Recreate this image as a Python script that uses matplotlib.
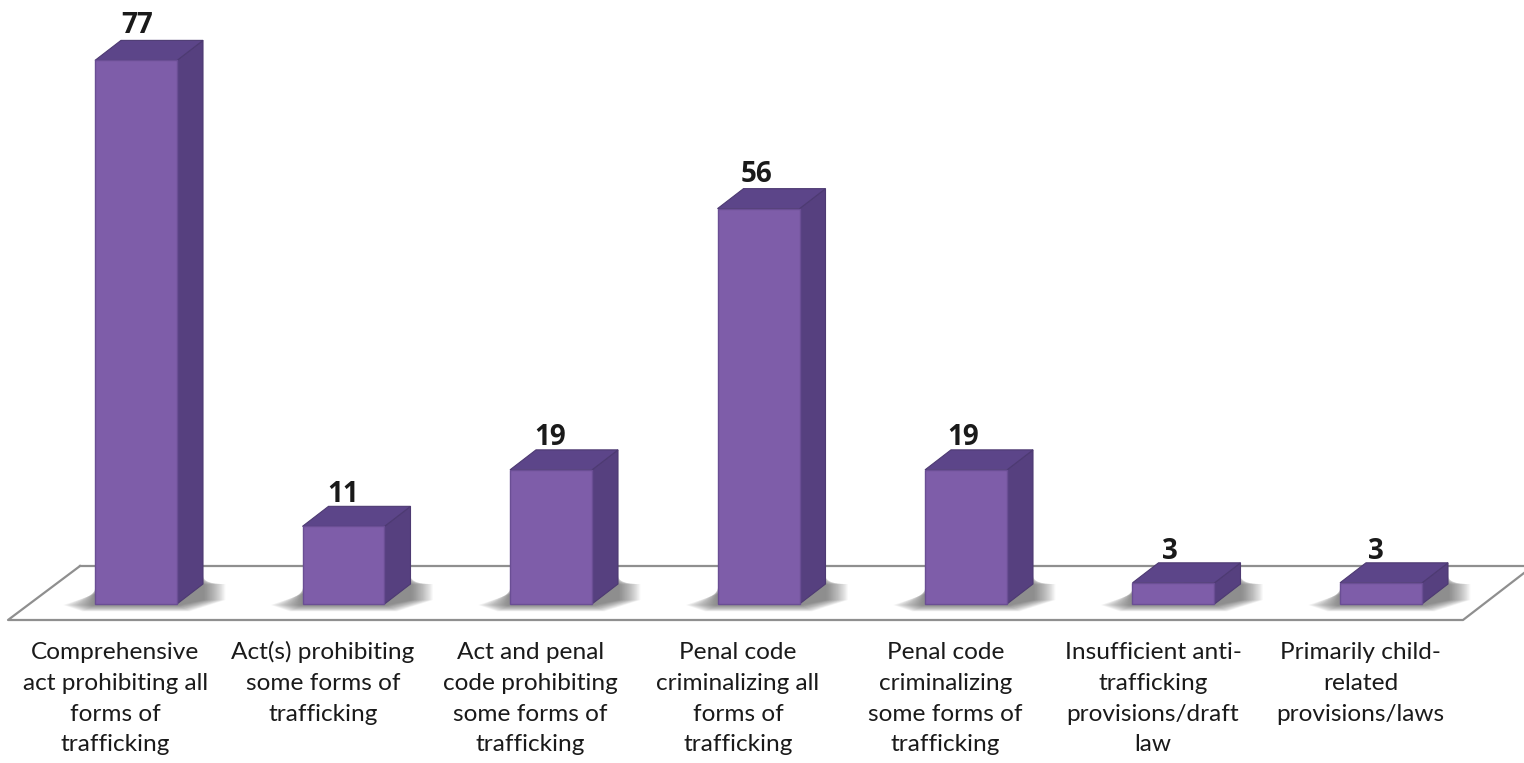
import numpy as np
import matplotlib
matplotlib.use('Agg')
import matplotlib.pyplot as plt
from matplotlib.patches import Polygon

categories = [
    'Comprehensive\nact prohibiting all\nforms of\ntrafficking',
    'Act(s) prohibiting\nsome forms of\ntrafficking',
    'Act and penal\ncode prohibiting\nsome forms of\ntrafficking',
    'Penal code\ncriminalizing all\nforms of\ntrafficking',
    'Penal code\ncriminalizing\nsome forms of\ntrafficking',
    'Insufficient anti-\ntrafficking\nprovisions/draft\nlaw',
    'Primarily child-\nrelated\nprovisions/laws',
]
values = [77, 11, 19, 56, 19, 3, 3]

plt.rcParams['font.family'] = ['Lato', 'DejaVu Sans']

W, H = 1524, 763
px_per_cat = 207.5
px_per_val = 7.06
x0_px = 136
y0_px = 604

fig = plt.figure(figsize=(W / 100, H / 100), dpi=100)
ax = fig.add_axes([0, 0, 1, 1])
# x in category index, y in value units, baseline at 604 px
ax.set_xlim((0 - x0_px) / px_per_cat, (W - x0_px) / px_per_cat)
ax.set_ylim(-(H - y0_px) / px_per_val, y0_px / px_per_val)
ax.axis('off')


def px_x(p):
    return p / px_per_cat


def px_y(p):
    return p / px_per_val


bar_w = px_x(82)
dx = px_x(26)
dy = px_y(20)

# floor outline
floor_c = '#8f8f8f'
left_back = px_x(80 - x0_px)
left_front = px_x(8 - x0_px)
right_front = px_x(1463 - x0_px)
right_edge = px_x(W - x0_px)
ax.plot([left_back, left_front, right_front, right_edge],
        [px_y(38), px_y(-16), px_y(-16), px_y(31)],
        color=floor_c, lw=1.6, zorder=1)
ax.plot([left_back, right_edge], [px_y(38), px_y(38)], color=floor_c, lw=1.6, zorder=1)

front_c = '#7e5da9'
side_c = '#56407f'
top_c = '#5c4589'

for i, v in enumerate(values):
    l = i - bar_w / 2
    r = i + bar_w / 2

    # soft shadow on the floor, stacked translucent shapes
    for g in range(1, 33):
        low = px_y(-1 - g * 0.2)
        ax.add_patch(Polygon(
            [(l - px_x(g), px_y(-1)),
             (l - px_x(g * 0.4), low),
             (r + px_x(g * 0.4), low),
             (r + dx + px_x(g * 0.7), px_y(4)),
             (r + dx + px_x(g * 0.7), px_y(20)),
             (r + dx, px_y(29 - g * 0.3)),
             (l, px_y(16 - g * 0.2))],
            closed=True, fc='#505050', ec='none', alpha=0.028, zorder=2))

    # side and top
    ax.add_patch(Polygon([(r, 0), (r + dx, dy), (r + dx, v + dy), (r, v)],
                         closed=True, fc=side_c, ec='#4d3a72', lw=0.8, zorder=3))
    ax.add_patch(Polygon([(l, v), (r, v), (r + dx, v + dy), (l + dx, v + dy)],
                         closed=True, fc=top_c, ec='#4d3a72', lw=0.8, zorder=3))
    # front
    ax.bar(i, v, width=bar_w, bottom=0, align='center', color=front_c,
           edgecolor='#6a4e94', linewidth=1.0, zorder=4)

    # value label sits just above the back edge
    ax.annotate(str(v), (i + px_x(1 - i), v + dy), xytext=(0, 2.6 + v * 0.035),
                textcoords='offset points', ha='center', va='baseline',
                fontsize=20, fontweight='bold', family=['Open Sans', 'DejaVu Sans'],
                color='#1a1a1a', zorder=5)

    # category label, one baseline per line so rows line up across bars
    for n, line in enumerate(categories[i].split('\n')):
        ax.annotate(line, (i - px_x(20.5), 0), xytext=(0, -39.5 - n * 22.2),
                    textcoords='offset points', ha='center', va='baseline',
                    fontsize=17.6, color='#1a1a1a', zorder=5)

fig.savefig('out.png', dpi=100, facecolor='white')
